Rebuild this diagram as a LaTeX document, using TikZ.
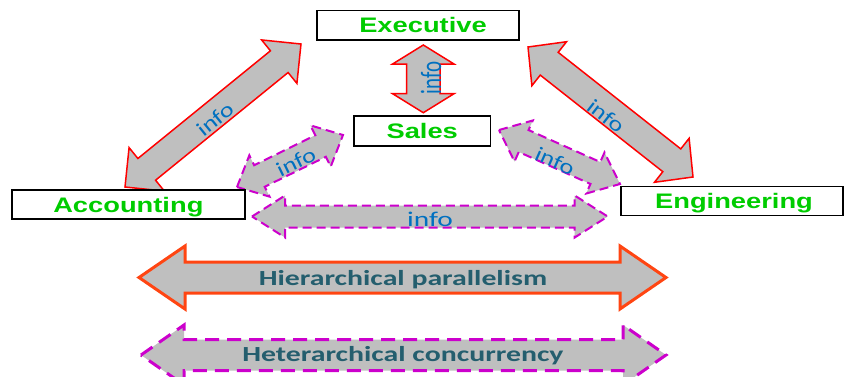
\documentclass[tikz,border=0pt]{standalone}
\usepackage{fontspec}
\setmainfont{Liberation Sans}
\newfontfamily\carl{Carlito}
\usetikzlibrary{calc}
\definecolor{boxgreen}{HTML}{00CC00}
\definecolor{infoblue}{HTML}{0070C0}
\definecolor{labteal}{HTML}{245E6E}
\definecolor{arrowgray}{HTML}{BFBFBF}
\definecolor{hred}{HTML}{FF4512}
\definecolor{mag}{HTML}{CC00CC}
\newcommand\sx[2]{\scalebox{#1}[1]{#2}}
\newcommand\fatarrow[6]{%
 \draw[#6] (#1) -- ($(#1)!#5!(#2)!#4!90:(#2)$) -- ($(#1)!#5!(#2)!#3!90:(#2)$)
   -- ($(#2)!#5!(#1)!#3!270:(#1)$) -- ($(#2)!#5!(#1)!#4!270:(#1)$) -- (#2)
   -- ($(#2)!#5!(#1)!#4!90:(#1)$) -- ($(#2)!#5!(#1)!#3!90:(#1)$)
   -- ($(#1)!#5!(#2)!#3!270:(#2)$) -- ($(#1)!#5!(#2)!#4!270:(#2)$) -- cycle;}
\tikzset{
  redarrow/.style={draw=red, line width=1.5pt, fill=arrowgray, line join=miter},
  magarrow/.style={draw=mag, line width=2pt, fill=arrowgray, dash pattern=on 9pt off 5pt, line join=miter},
  hierarrow/.style={draw=hred, line width=3pt, fill=arrowgray, line join=miter},
  heterarrow/.style={draw=mag, line width=3pt, fill=arrowgray, dash pattern=on 14pt off 8pt, line join=miter},
  unitbox/.style={draw=black, line width=1.8pt, fill=white, inner sep=0pt,
    text height=15pt, text depth=0pt, text=boxgreen,
    font=\bfseries\fontsize{21}{21}\selectfont},
  infolabel/.style={text=infoblue, inner sep=0pt, font=\carl\fontsize{21}{21}\selectfont},
  biglabel/.style={text=labteal, inner sep=0pt, anchor=base, font=\carl\bfseries\fontsize{21.5}{21.5}\selectfont}
}
\begin{document}
\begin{tikzpicture}[x=1pt,y=-1pt]
\useasboundingbox (0,0) rectangle (844,376);
% arrow end points
\coordinate (eaA) at (125,187); \coordinate (eaB) at (301,44);
\coordinate (eeA) at (528,47);  \coordinate (eeB) at (693,177);
\coordinate (esA) at (423.3,45); \coordinate (esB) at (423.3,112.7);
\coordinate (asA) at (237,187); \coordinate (asB) at (343,135);
\coordinate (seA) at (499,130); \coordinate (seB) at (620,184);
\coordinate (aeA) at (252,216.5); \coordinate (aeB) at (607.7,216.5);
\coordinate (hpA) at (139,277.5); \coordinate (hpB) at (666,277.5);
\coordinate (hcA) at (141,355); \coordinate (hcB) at (666,355);
% arrows
\fatarrow{eaA}{eaB}{14pt}{28pt}{28pt}{redarrow}
\fatarrow{eeA}{eeB}{14.5pt}{28pt}{27pt}{redarrow}
\fatarrow{esA}{esB}{16.7pt}{30.7pt}{19pt}{redarrow}
\fatarrow{asA}{asB}{12pt}{23pt}{25pt}{magarrow}
\fatarrow{seA}{seB}{12pt}{22.5pt}{27pt}{magarrow}
\fatarrow{aeA}{aeB}{11pt}{21pt}{33pt}{magarrow}
\fatarrow{hpA}{hpB}{15.5pt}{31.5pt}{46pt}{hierarrow}
\fatarrow{hcA}{hcB}{15.5pt}{30pt}{43pt}{heterarrow}
% arrow labels
\node[infolabel, rotate=39] (iea) at (215,119) {\sx{1.25}{info}};
\node[infolabel, rotate=-38] (iee) at (606,116) {\sx{1.25}{info}};
\node[infolabel, rotate=90] (ies) at (431,78) {\scalebox{1}[1.4]{info}};
\node[infolabel, rotate=26] (ias) at (296,162) {\sx{1.25}{info}};
\node[infolabel, rotate=-24] (ise) at (555,161) {\sx{1.25}{info}};
\node[infolabel, anchor=base] (iae) at (430,226) {\sx{1.4}{info}};
\node[biglabel] (hp) at (403,285.4) {\sx{1.385}{Hierarchical parallelism}};
\node[biglabel] (hc) at (403,361.4) {\sx{1.385}{Heterarchical concurrency}};
% boxes
\node[unitbox, minimum width=202pt, minimum height=29.5pt] (exec) at (418,25.25) {\hspace*{10pt}\sx{1.3}{Executive}};
\node[unitbox, minimum width=136.5pt, minimum height=29.7pt] (sales) at (422.25,130.85) {\sx{1.3}{Sales}};
\node[unitbox, minimum width=233.3pt, minimum height=29.3pt] (acct) at (128.35,204.65) {\sx{1.3}{Accounting}};
\node[unitbox, minimum width=222pt, minimum height=29pt] (eng) at (732,201) {\hspace*{4pt}\sx{1.3}{Engineering}};
\end{tikzpicture}
\end{document}
